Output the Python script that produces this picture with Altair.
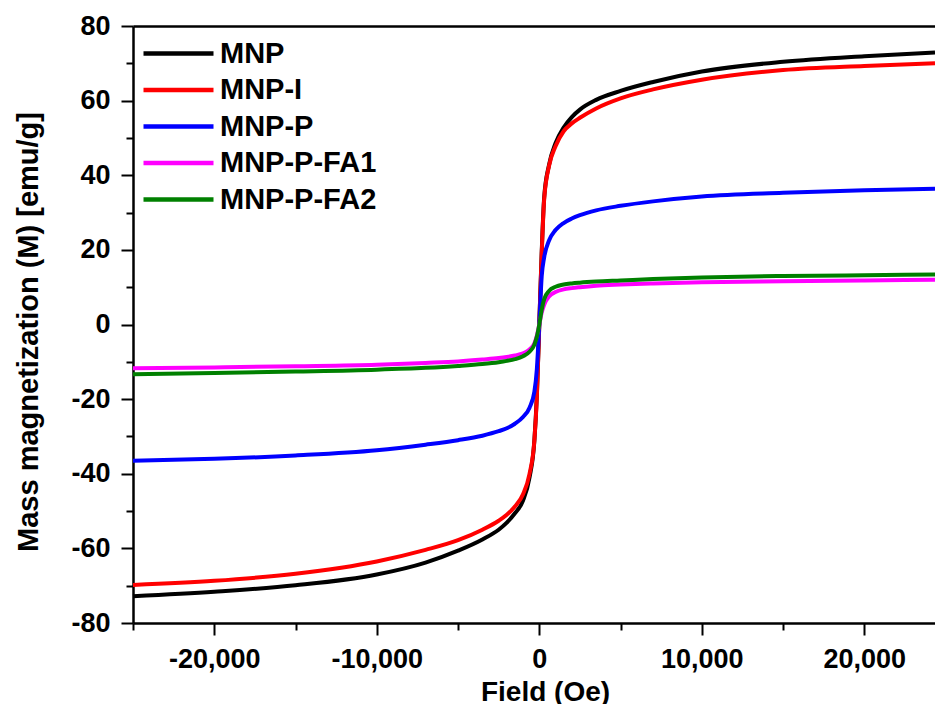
import altair as alt
import pandas as pd

# Applied field (Oe) at which each magnetization curve is sampled
FIELD_OE = [-25000, -20000, -15000, -10000, -7000, -5000, -3500, -2500, -2000, -1500,
            -1000, -600, -300, -150, 0, 150, 300, 600, 1000, 1500, 2000, 2500, 3500,
            5000, 7000, 10000, 15000, 20000, 24350]

# Mass magnetization (emu/g) for each sample
MNP = [-72.8, -71.6, -69.9, -67.0, -63.8, -60.6, -57.6, -55.0, -53.1, -50.6,
       -47.2, -41.0, -31.0, -19.0, 0.0, 19.5, 34.0, 42.8, 48.6, 52.8, 55.6, 57.6, 60.2,
       62.6, 65.0, 67.8, 70.4, 71.9, 72.9]
MNP_I = [-69.8, -68.7, -66.8, -63.5, -60.4, -57.8, -55.0, -52.6, -51.0, -48.8,
         -45.5, -40.0, -31.0, -19.5, 0.0, 19.0, 33.5, 42.5, 47.8, 51.8, 53.9, 55.4, 57.9,
         60.6, 63.0, 65.6, 68.2, 69.3, 70.0]
MNP_P = [-36.5, -36.0, -35.1, -33.7, -32.2, -31.0, -29.8, -28.6, -27.8, -26.6,
         -24.8, -22.3, -18.0, -12.0, 0.0, 13.0, 18.0, 22.5, 25.3, 27.2, 28.4, 29.3, 30.6,
         31.8, 33.0, 34.3, 35.3, 36.0, 36.4]
MNP_P_FA1 = [-11.7, -11.5, -11.2, -10.8, -10.3, -9.9, -9.4, -9.0, -8.7, -8.3,
             -7.7, -6.7, -5.0, -3.0, 0.0, 3.2, 5.3, 7.5, 8.7, 9.4, 9.75, 10.0, 10.4,
             10.7, 11.0, 11.3, 11.6, 11.8, 12.0]
MNP_P_FA2 = [-13.3, -13.0, -12.6, -12.1, -11.6, -11.1, -10.6, -10.1, -9.75, -9.3,
             -8.5, -7.3, -5.4, -3.3, 0.0, 4.0, 6.8, 9.0, 10.1, 10.7, 11.0, 11.2, 11.5,
             11.8, 12.2, 12.6, 13.0, 13.2, 13.4]

SAMPLES = ["MNP", "MNP-I", "MNP-P", "MNP-P-FA1", "MNP-P-FA2"]
COLORS = ["#000000", "#ff0000", "#0000ff", "#ff00ff", "#008000"]

# Tick positions
X_MAJOR = [-20000, -10000, 0, 10000, 20000]
X_MINOR = [-25000, -15000, -5000, 5000, 15000]
Y_MAJOR = [-80, -60, -40, -20, 0, 20, 40, 60, 80]
Y_MINOR = [-70, -50, -30, -10, 10, 30, 50, 70]

rows = []
for name, values in zip(SAMPLES, [MNP, MNP_I, MNP_P, MNP_P_FA1, MNP_P_FA2]):
    for h, m in zip(FIELD_OE, values):
        rows.append({"field": h, "mag": m, "sample": name})
df = pd.DataFrame(rows)

FONT = "Liberation Sans"
W, H = 802, 597

x_scale = alt.Scale(domain=[-25000, 24350], nice=False, zero=False)
y_scale = alt.Scale(domain=[-80, 80], nice=False, zero=False)

# Major ticks with labels (plain hyphen for negatives)
x_major = alt.Axis(
    orient="bottom", values=X_MAJOR, grid=False,
    labelExpr="(datum.value < 0 ? '-' : '') + format(abs(datum.value), ',')",
    tickSize=12, tickWidth=2, tickColor="black",
    domainWidth=2.5, domainColor="black",
    labelFont=FONT, labelFontSize=27, labelFontWeight="bold", labelColor="black",
    labelPadding=11, labelOverlap=False, labelFlush=False,
    title="Field (Oe)", titleFont=FONT, titleFontSize=28, titleFontWeight="bold",
    titleColor="black", titleX=412, titleY=77, titleBaseline="alphabetic",
)
y_major = alt.Axis(
    orient="left", values=Y_MAJOR, grid=False,
    labelExpr="(datum.value < 0 ? '-' : '') + abs(datum.value)",
    tickSize=12, tickWidth=2, tickColor="black",
    domainWidth=2.5, domainColor="black",
    labelFont=FONT, labelFontSize=27, labelFontWeight="bold", labelColor="black",
    labelPadding=11, labelOverlap=False, labelFlush=False,
    title="Mass magnetization (M) [emu/g]", titleFont=FONT, titleFontSize=29,
    titleFontWeight="bold", titleColor="black", titleX=-95.5, titleY=305.5,
    titleBaseline="alphabetic", titleAngle=270,
)

# Minor ticks, unlabeled
x_minor = alt.Axis(orient="bottom", values=X_MINOR, grid=False,
                   tickSize=7, tickWidth=2, tickColor="black",
                   labels=False, domain=False, title=None)
y_minor = alt.Axis(orient="left", values=Y_MINOR, grid=False,
                   tickSize=7, tickWidth=2, tickColor="black",
                   labels=False, domain=False, title=None)

# Top frame line
x_top = alt.Axis(orient="top", labels=False, ticks=False, title=None, grid=False,
                 domainWidth=2.5, domainColor="black")

minor = alt.Chart(df).mark_point(opacity=0).encode(
    x=alt.X("field:Q", scale=x_scale, axis=x_minor),
    y=alt.Y("mag:Q", scale=y_scale, axis=y_minor),
)
frame = alt.Chart(df).mark_point(opacity=0).encode(
    x=alt.X("field:Q", scale=x_scale, axis=x_top),
    y=alt.Y("mag:Q", scale=y_scale, axis=None),
)
curves = alt.Chart(df).mark_line(strokeWidth=4, interpolate="monotone").encode(
    x=alt.X("field:Q", scale=x_scale, axis=x_major),
    y=alt.Y("mag:Q", scale=y_scale, axis=y_major),
    color=alt.Color(
        "sample:N",
        scale=alt.Scale(domain=SAMPLES, range=COLORS),
        sort=SAMPLES,
        legend=alt.Legend(
            title=None, orient="none", legendX=31, legendY=13,
            symbolType="M-5,0H5", symbolSize=196, symbolStrokeWidth=4.5,
            labelFont=FONT, labelFontSize=29, labelFontWeight="bold",
            labelColor="black", labelOffset=27, rowPadding=6.5, padding=0,
            labelLimit=400,
        ),
    ),
)

chart = alt.layer(minor, frame, curves).resolve_axis(
    x="independent", y="independent"
).properties(
    width=W, height=H,
    padding={"left": 133, "top": 26, "right": 0, "bottom": 81},
    autosize=alt.AutoSizeParams(type="none"),
    background="white",
).configure_view(stroke=None)

chart.save("out.html", embed_options={"renderer": "svg", "actions": False})
